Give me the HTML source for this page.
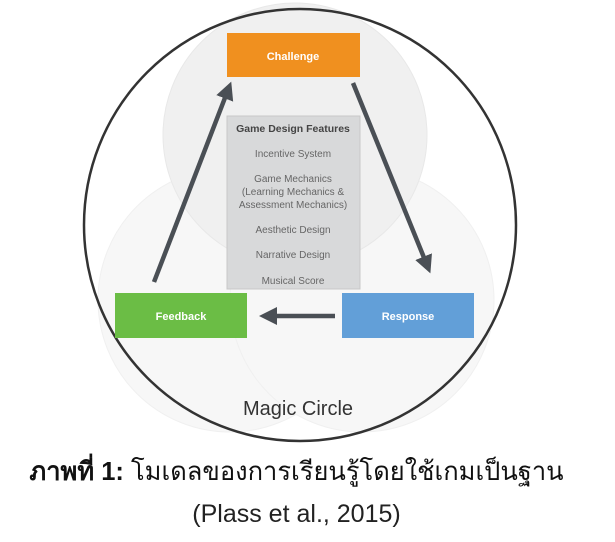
<!DOCTYPE html>
<html><head><meta charset="utf-8"><style>
body{margin:0;width:615px;height:542px;background:#fff;overflow:hidden;position:relative;font-family:"Liberation Sans",sans-serif}
.cap{position:absolute;left:0;width:593px;text-align:center;color:#111;white-space:nowrap}
</style></head><body>
<svg width="615" height="542" style="position:absolute;left:0;top:0">
<defs><marker id="a" markerWidth="4" markerHeight="4" refX="2" refY="2" orient="auto" markerUnits="strokeWidth"><path d="M0,0L4,2L0,4z" fill="#4a4f55"/></marker></defs>
<circle cx="230" cy="300" r="132" fill="#f7f7f7" stroke="#f0f0f0"/>
<circle cx="362" cy="300" r="132" fill="#f7f7f7" stroke="#f0f0f0"/>
<circle cx="295" cy="135" r="132" fill="#f0f0f0" stroke="#e8e8e8"/>
<circle cx="300" cy="225" r="216" fill="none" stroke="#333" stroke-width="2.5"/>
<rect x="227" y="116" width="133" height="173" fill="#d8d9da" stroke="#c8c8c8"/>
<g font-size="10" fill="#666" text-anchor="middle">
<text x="293" y="132" font-weight="bold" font-size="10.5" fill="#444">Game Design Features</text>
<text x="293" y="157">Incentive System</text>
<text x="293" y="182">Game Mechanics</text>
<text x="293" y="195">(Learning Mechanics &amp;</text>
<text x="293" y="208">Assessment Mechanics)</text>
<text x="293" y="233">Aesthetic Design</text>
<text x="293" y="258">Narrative Design</text>
<text x="293" y="284">Musical Score</text>
</g>
<rect x="227" y="33" width="133" height="44" fill="#f0901f"/>
<rect x="115" y="293" width="132" height="45" fill="#6bbd45"/>
<rect x="342" y="293" width="132" height="45" fill="#629fd8"/>
<g font-size="11" font-weight="bold" fill="#fff" text-anchor="middle">
<text x="293" y="60">Challenge</text>
<text x="181" y="320">Feedback</text>
<text x="408" y="320">Response</text>
</g>
<g stroke="#4a4f55" stroke-width="4.5" marker-end="url(#a)">
<line x1="154" y1="282" x2="228" y2="90"/>
<line x1="353" y1="83" x2="427" y2="265"/>
<line x1="335" y1="316" x2="268" y2="316"/>
</g>
<text x="298" y="415" font-size="20" fill="#333" text-anchor="middle">Magic Circle</text>
</svg>
<div class="cap" style="top:452px;font-size:25.5px"><b>ภาพที่ 1:</b> โมเดลของการเรียนรู้โดยใช้เกมเป็นฐาน</div>
<div class="cap" style="top:500px;font-size:25px;color:#222">(Plass et al., 2015)</div>
</body></html>
